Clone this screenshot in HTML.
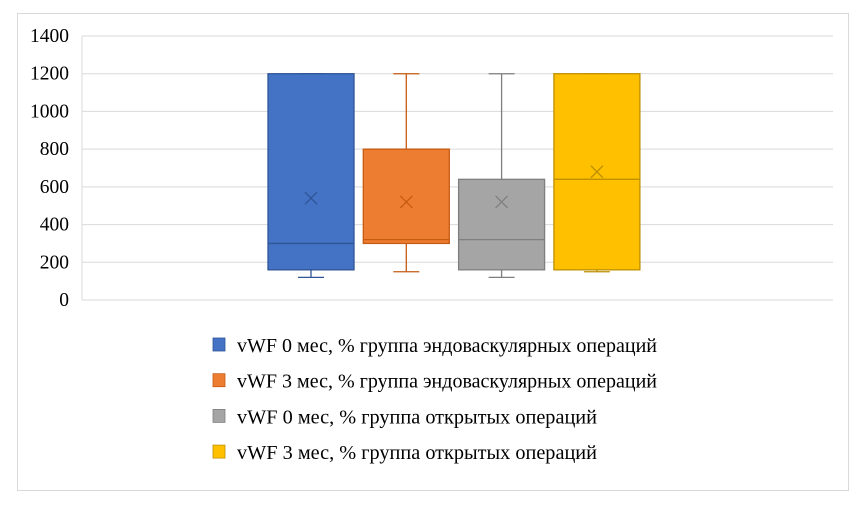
<!DOCTYPE html>
<html><head><meta charset="utf-8"><style>
body{margin:0;background:#fff;}
svg text{font-family:"Liberation Serif",serif;}
</style></head><body>
<svg width="861" height="502">
<rect x="17.5" y="13.5" width="831" height="477" fill="#fff" stroke="#d9d9d9"/>
<g id="grid"></g><g id="boxes"></g><g id="legend"></g>
</svg>
<script>
const ticks=[0,200,400,600,800,1000,1200,1400];
const seriesNames=["vWF 0 мес, % группа эндоваскулярных операций","vWF 3 мес, % группа эндоваскулярных операций","vWF 0 мес, % группа открытых операций","vWF 3 мес, % группа открытых операций"];
const mins=[120,150,120,150];
const q1s=[160,300,160,160];
const medians=[300,320,320,640];
const q3s=[1200,800,640,1200];
const maxs=[1200,1200,1200,1200];
const means=[540,520,520,680];
const colors=["#4472c4","#ed7d31","#a5a5a5","#ffc000"];
const strokes=["#2f5597","#c55a11","#7f7f7f","#bf9000"];
const NS="http://www.w3.org/2000/svg";
const y=v=>300-v*(264/1400);
const boxX=i=>268+i*95.3, BW=86;
function mk(t,a,p){const e=document.createElementNS(NS,t);for(const k in a)e.setAttribute(k,a[k]);p.appendChild(e);return e;}
const g=document.getElementById('grid');
ticks.forEach(t=>{
 const l=mk('line',{x1:82,x2:833,y1:y(t),y2:y(t),stroke:'#d9d9d9','stroke-width':1},g);
 
 
 const tx=mk('text',{x:69,y:y(t)+6,'text-anchor':'end','font-size':19.5,fill:'#000'},g);
 tx.textContent=t;
 
 
});
const lx=mk('line',{x1:82,x2:82,y1:36,y2:300,stroke:'#d9d9d9'},g);


const b=document.getElementById('boxes');
seriesNames.forEach((n,i)=>{
 const x=boxX(i),cx=x+BW/2,s=strokes[i];
 const grp=mk('g',{},b);
 
 
 mk('line',{x1:cx,x2:cx,y1:y(maxs[i]),y2:y(q3s[i]),stroke:s,'stroke-width':1.3},grp);
 mk('line',{x1:cx,x2:cx,y1:y(q1s[i]),y2:y(mins[i]),stroke:s,'stroke-width':1.3},grp);
 mk('line',{x1:cx-13,x2:cx+13,y1:y(maxs[i]),y2:y(maxs[i]),stroke:s,'stroke-width':1.3},grp);
 mk('line',{x1:cx-13,x2:cx+13,y1:y(mins[i]),y2:y(mins[i]),stroke:s,'stroke-width':1.3},grp);
 mk('rect',{x:x,y:y(q3s[i]),width:BW,height:y(q1s[i])-y(q3s[i]),fill:colors[i],stroke:s,'stroke-width':1.3},grp);
 mk('line',{x1:x,x2:x+BW,y1:y(medians[i]),y2:y(medians[i]),stroke:s,'stroke-width':1.3},grp);
 const my=y(means[i]);
 mk('path',{d:`M${cx-6},${my-6}L${cx+6},${my+6}M${cx+6},${my-6}L${cx-6},${my+6}`,stroke:s,'stroke-width':1.3,fill:'none'},grp);
});
const lg=document.getElementById('legend');
const legendLens=[420,420,360,360];
seriesNames.forEach((n,i)=>{
 const yy=345+i*35.7;
 const r=mk('rect',{x:213,y:yy-7,width:12,height:13,fill:colors[i],stroke:strokes[i],'stroke-width':0.8},lg);
 
 
 const t=mk('text',{x:237,y:yy+7,'font-size':19.5,fill:'#000',textLength:legendLens[i],lengthAdjust:'spacingAndGlyphs'},lg);
 t.textContent=n;
 
 
});
</script>
</body></html>
